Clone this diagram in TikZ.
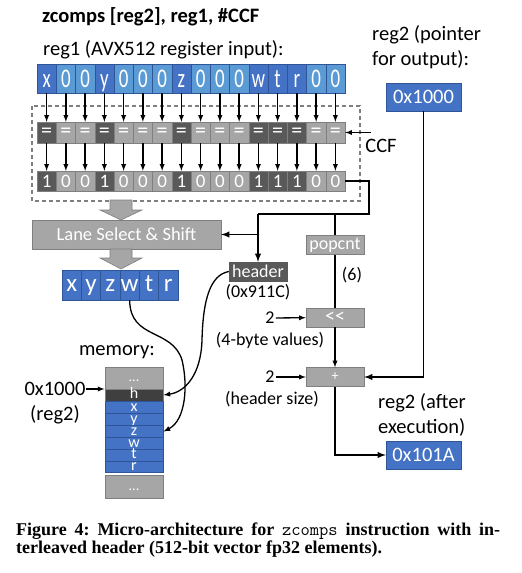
\documentclass[tikz,border=0pt]{standalone}
\usepackage{fontspec}
\usepackage{graphicx}
\setmainfont{Carlito}
\newfontfamily\capfont{Liberation Serif}
\usetikzlibrary{arrows,positioning}
\definecolor{blueD}{HTML}{4472C4}
\definecolor{blueL}{HTML}{5B9BD5}
\definecolor{blueE}{HTML}{2F5597}
\definecolor{greyD}{HTML}{595959}
\definecolor{greyL}{HTML}{A6A6A6}
\definecolor{greyE}{HTML}{7F7F7F}
\definecolor{greyH}{HTML}{3F3F3F}
\newcommand\fsz[1]{\fontsize{#1}{#1}\selectfont}
\begin{document}
\begin{tikzpicture}[x=1pt, y=-1pt, >=latex,
		txt/.style={inner sep=0pt, font=\fsz{20.5}},
		sml/.style={inner sep=1pt, font=\fsz{18}},
		vin1/.style={draw=blueE, fill=blueD, text=white, minimum width=19.25pt, minimum height=29pt, inner sep=0pt, text height=17pt, text depth=0pt, font=\fsz{27}},
		vin0/.style={vin1, fill=blueL},
		vcmp1/.style={draw=greyE, fill=greyD, text=white, minimum width=19.25pt, minimum height=21pt, inner sep=0pt, font=\fsz{22}},
		vcmp0/.style={vcmp1, fill=greyL},
		vbit1/.style={vcmp1, minimum height=20pt, text height=12pt, text depth=0pt, font=\fsz{19}},
		vbit0/.style={vbit1, fill=greyL},
		vout/.style={draw=blueE, fill=blueD, text=white, minimum width=19.33pt, minimum height=30pt, inner sep=0pt, text height=12pt, text depth=0pt, font=\fsz{25}},
		opbox/.style={draw=greyE, fill=greyL, text=white, minimum width=58pt, minimum height=19pt, inner sep=1pt, font=\fsz{18}},
		regbox/.style={draw=blueE, fill=blueD, text=white, minimum width=75pt, minimum height=28pt, inner sep=0pt, font=\fsz{20.5}},
		memgrey/.style={draw=greyE, fill=greyL, minimum width=58pt, inner sep=0pt, line width=1pt},
		memblue/.style={memgrey, draw=blueE, fill=blueD, minimum height=11.83pt},
		memtxt/.style={text=white, inner sep=0pt, text height=7.5pt, text depth=0pt, font=\fsz{16}},
		blockarr/.style={fill=greyL, draw=greyE, line width=0.6pt},
		route/.style={line width=1.8pt},
		link/.style={line width=1.3pt}]
	\useasboundingbox (0,0) rectangle (522,573);
	% Titel und Registerbeschriftung
	\node[txt, anchor=west, font=\bfseries\fsz{20.5}] (title) at (42,17) {zcomps [reg2], reg1, \#CCF};
	\node[txt, anchor=west] (reg1lbl) at (43,50) {reg1 (AVX512 register input):};
	\node[txt, anchor=west, align=left, font=\fontsize{20.5}{25}\selectfont] (ptrlbl) at (372,47.5) {reg2 (pointer\\for output):};
	% Vergleichsblock
	\draw[dashed, dash pattern=on 4pt off 3pt, greyE, line width=1.2pt] (32,106) rectangle (360,201);
	\foreach \c/\b [count=\i from 0] in {x/1,0/0,0/0,y/1,0/0,0/0,0/0,z/1,0/0,0/0,0/0,w/1,t/1,r/1,0/0,0/0} {
		\node[vin\b] (a\i) at (46.625+19.25*\i,78.5) {\scalebox{0.7}[1]{\c}};
		\node[vcmp\b] (b\i) at (46.625+19.25*\i,132.5) {=};
		\node[vbit\b] (c\i) at (46.625+19.25*\i,181) {\b};
		\draw[link,->] (a\i) -- (b\i);
		\draw[link,->] (b\i) -- (c\i);
	}
	\coordinate (ccfin) at (371,132.5);
	\draw[link,->] (ccfin) -- (b15);
	\node[txt] (ccf) at (381,146) {CCF};
	% Lane Select
	\node[opbox, minimum width=189pt, minimum height=29pt, font=\fsz{18.5}] (lane) at (126.5,234.5) {Lane Select \& Shift};
	\foreach \ya/\yb/\yc in {200/210/220, 249/258/269}
		\filldraw[blockarr] (110,\ya) -- (132,\ya) -- (132,\yb) -- (142,\yb) -- (121,\yc) -- (100,\yb) -- (110,\yb) -- cycle;
	\foreach \c [count=\i from 0] in {x,y,z,w,t,r}
		\node[vout] (o\i) at (71.67+19.33*\i,285) {\c};
	% Header und Adressrechnung
	\node[opbox, fill=greyD, draw=greyD] (hdr) at (258,271.5) {header};
	\node[sml] (hdrval) at (258,292) {(0x911C)};
	\node[opbox] (popc) at (335,245) {popcnt};
	\node[sml] (cnt) at (352,275) {(6)};
	\node[opbox, font=\fsz{20}] (shl) at (335,317.5) {<\kern0pt<};
	\node[sml] (two1) at (270,318) {2};
	\node[sml] (bytes) at (270,340) {(4-byte values)};
	\node[opbox, font=\fsz{14}] (plus) at (335,377) {+};
	\node[sml] (two2) at (270,377) {2};
	\node[sml] (hsize) at (272,399) {(header size)};
	\node[regbox] (ptr) at (423.5,97) {0x1000};
	\node[regbox] (ptrnew) at (423.5,455) {0x101A};
	\node[txt, anchor=west, align=left, font=\fontsize{20.5}{25}\selectfont] (newlbl) at (378,414.5) {reg2 (after\\execution)};
	\coordinate (corner) at (369,214);
	\coordinate (tap) at (258,214);
	\draw[route] (c15.east) -| (corner) -- (tap);
	\draw[route,->] (tap) -- (hdr.north);
	\draw[route,->] (tap |- lane.east) -- (lane.east);
	\draw[route] (popc.north |- tap) -- (popc.north);
	\draw[link] (popc) -- (shl);
	\draw[link,->] (two1) -- (shl);
	\draw[link,->] (shl) -- (plus);
	\draw[link,->] (two2) -- (plus);
	\draw[route,->] (ptr) |- (plus.east);
	\draw[route,->] (plus) |- (ptrnew);
	% Speicher
	\node[txt] (memlbl) at (117,352) {memory:};
	\node[memgrey, minimum height=22pt, label={[memtxt, font=\fsz{14}]center:...}] (mtop) at (134,378) {};
	\node[memgrey, fill=greyH, draw=greyE, minimum height=12pt, label={[memtxt]center:h}] (mh) at (134,395) {};
	\foreach \c [count=\i from 0] in {x,y,z,w,t,r}
		\node[memblue, label={[memtxt]center:\c}] (m\c) at (134,407.9+11.83*\i) {};
	\node[memgrey, minimum height=23pt, label={[memtxt, font=\fsz{14}]center:...}] (mbot) at (134,486.5) {};
	\node[txt] (addr) at (55,389) {0x1000};
	\node[txt] (addrlbl) at (55,415) {(reg2)};
	\draw[link,->] (addr.east) -- (addr.east -| mh.west);
	\draw[link,->] (o3.south) .. controls (130,340) and (172,328) .. (182,360) .. controls (188,385) and (186,420) .. (mz.east);
	\draw[link,->] (hdr.west) .. controls (210,275) and (203,300) .. (202,340) .. controls (201,375) and (185,392) .. (mh.east);
	% Bildunterschrift
	\node[anchor=north west, inner sep=0pt, text width=484pt, align=justify, font=\frenchspacing\capfont\bfseries\fontsize{18}{16.5}\selectfont] (caption) at (16,523) {Figure 4: Micro-architecture for \texttt{\mdseries zcomps} instruction with in-\linebreak terleaved header (512-bit vector fp32 elements).};
\end{tikzpicture}
\end{document}
